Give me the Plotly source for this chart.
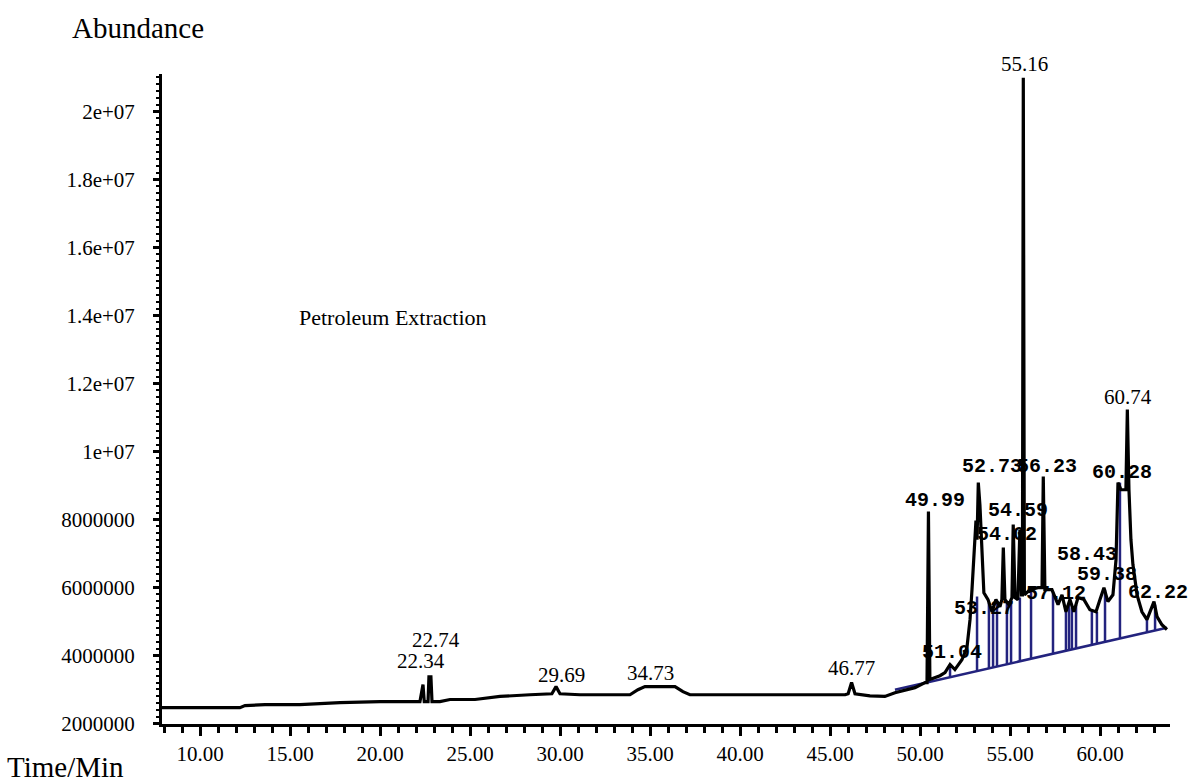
import plotly.graph_objects as go

# ---- chromatogram trace (time in min, abundance in millions) ----
time_min = [7.88, 12.21, 12.49, 13.60, 15.54, 17.77, 19.99, 22.21, 22.38, 22.45,
            22.66, 22.71, 22.82, 22.88, 23.32, 23.88, 25.27, 26.66, 28.32, 29.54,
            29.77, 29.99, 31.10, 33.88, 34.32, 34.71, 36.38, 36.82, 37.21, 45.83,
            46.00, 46.19, 46.38, 47.21, 48.04, 48.60, 49.71, 50.27, 50.38, 50.46,
            50.54, 51.10, 51.38, 51.66, 51.93, 52.32, 52.60, 52.77, 52.88, 52.99,
            53.10, 53.16, 53.23, 53.32, 53.43, 53.54, 53.77, 53.99, 54.21, 54.43,
            54.54, 54.62, 54.71, 54.93, 55.10, 55.17, 55.27, 55.43, 55.54, 55.63,
            55.68, 55.73, 55.79, 56.10, 56.54, 56.77, 56.84, 56.93, 57.32, 57.66,
            57.88, 58.10, 58.32, 58.54, 58.77, 59.10, 59.43, 59.77, 59.99, 60.21,
            60.43, 60.71, 60.88, 60.99, 61.16, 61.43, 61.51, 61.60, 61.71, 61.82,
            62.05, 62.32, 62.60, 62.77, 62.99, 63.16, 63.43, 63.71]
abundance_m = [2.46, 2.46, 2.52, 2.55, 2.55, 2.61, 2.64, 2.64, 3.14, 2.64,
               2.64, 3.37, 3.37, 2.64, 2.64, 2.70, 2.70, 2.79, 2.84, 2.87,
               3.08, 2.87, 2.84, 2.84, 2.99, 3.08, 3.08, 2.93, 2.84, 2.84,
               2.87, 3.20, 2.87, 2.81, 2.79, 2.90, 3.05, 3.20, 3.20, 8.23,
               3.29, 3.40, 3.49, 3.73, 3.58, 3.87, 4.23, 5.05, 5.93, 6.81,
               7.96, 7.40, 9.08, 8.43, 6.81, 5.84, 5.64, 5.28, 5.64, 5.43,
               5.64, 7.17, 5.64, 5.49, 5.70, 7.85, 5.70, 5.64, 7.69, 5.78,
               5.78, 20.99, 5.78, 5.93, 5.99, 5.99, 9.26, 5.93, 5.93, 5.49,
               5.78, 5.28, 5.64, 5.28, 5.70, 5.64, 5.34, 5.28, 5.64, 5.99,
               5.58, 5.78, 6.81, 9.08, 8.87, 8.87, 11.23, 8.87, 7.40, 6.67,
               5.78, 5.28, 5.05, 5.28, 5.58, 5.14, 4.90, 4.76]

# ---- integration baseline and drop lines ----
baseline_time = [48.60, 63.71]
baseline_m = [2.99, 4.81]
drop_time = [51.66, 53.16, 53.82, 54.05, 54.27, 54.82, 55.05, 55.54, 56.16, 57.38,
             58.10, 58.27, 58.43, 58.66, 59.54, 59.82, 60.27, 61.10, 62.60, 63.05]
drop_bottom_m = [3.36, 3.54, 3.62, 3.65, 3.68, 3.74, 3.77, 3.83, 3.90, 4.05,
                 4.14, 4.16, 4.18, 4.21, 4.31, 4.35, 4.40, 4.50, 4.68, 4.74]
drop_top_m = [3.73, 5.73, 5.55, 5.28, 5.58, 5.55, 5.64, 5.70, 5.93, 5.87,
              5.28, 5.49, 5.40, 5.49, 5.34, 5.28, 5.93, 9.08, 5.05, 5.49]

# ---- peak labels ----
serif_labels = ["22.34", "22.74", "29.69", "34.73", "46.77", "60.74"]
serif_label_t = [22.25, 23.10, 30.08, 35.03, 46.19, 61.55]
serif_label_m = [3.84, 4.46, 3.43, 3.48, 3.63, 11.61]
top_label = "55.16"
top_label_t = 55.82
mono_labels = ["49.99", "52.73", "56.23", "54.59", "54.02", "51.04", "60.28",
               "58.43", "59.38", "62.22", "53.27", "57.12"]
mono_label_t = [50.82, 53.97, 57.03, 55.43, 54.85, 51.79, 61.24,
                59.29, 60.36, 63.21, 53.55, 57.55]
mono_label_m = [8.55, 9.55, 9.55, 8.25, 7.55, 4.08, 9.37,
                6.96, 6.37, 5.84, 5.37, 5.81]

x_tick_vals = [10, 15, 20, 25, 30, 35, 40, 45, 50, 55, 60]
x_tick_text = ["10.00", "15.00", "20.00", "25.00", "30.00", "35.00", "40.00",
               "45.00", "50.00", "55.00", "60.00"]
y_tick_vals = [2e6, 4e6, 6e6, 8e6, 1e7, 1.2e7, 1.4e7, 1.6e7, 1.8e7, 2e7]
y_tick_text = ["2000000", "4000000", "6000000", "8000000", "1e+07", "1.2e+07",
               "1.4e+07", "1.6e+07", "1.8e+07", "2e+07"]

M = 1e6
SERIF = "Liberation Serif"
MONO = "Liberation Mono"
NAVY = "#23237e"

fig = go.Figure()

# integration baseline
fig.add_trace(go.Scatter(x=baseline_time, y=[v * M for v in baseline_m], mode="lines",
                         line=dict(color=NAVY, width=2.5), hoverinfo="skip", showlegend=False))
# drop lines
dx, dy = [], []
for t, b, tp in zip(drop_time, drop_bottom_m, drop_top_m):
    dx += [t, t, None]
    dy += [b * M, tp * M, None]
fig.add_trace(go.Scatter(x=dx, y=dy, mode="lines", line=dict(color=NAVY, width=2.5),
                         hoverinfo="skip", showlegend=False))
# chromatogram
fig.add_trace(go.Scatter(x=time_min, y=[v * M for v in abundance_m], mode="lines",
                         line=dict(color="black", width=3.2), showlegend=False))

ann = []
for txt, t, v in zip(serif_labels, serif_label_t, serif_label_m):
    ann.append(dict(x=t, y=v * M, xref="x", yref="y", text=txt, showarrow=False,
                    font=dict(family=SERIF, size=21, color="black")))
ann.append(dict(x=top_label_t, y=21.1 * M, xref="x", yref="y", text=top_label, showarrow=False,
                yanchor="bottom", yshift=-4, font=dict(family=SERIF, size=21, color="black")))
for txt, t, v in zip(mono_labels, mono_label_t, mono_label_m):
    ann.append(dict(x=t, y=v * M, xref="x", yref="y", text="<b>" + txt + "</b>", showarrow=False,
                    font=dict(family=MONO, size=20, color="black")))
ann.append(dict(x=15.38, y=13.93 * M, xref="x", yref="y", text="Petroleum Extraction",
                showarrow=False, xanchor="left", font=dict(family=SERIF, size=22, color="black")))
ann.append(dict(x=-0.0913, y=1.0715, xref="paper", yref="paper", text="Abundance",
                showarrow=False, xanchor="left", yanchor="middle",
                font=dict(family=SERIF, size=29, color="black")))
ann.append(dict(x=-0.1558, y=-0.066, xref="paper", yref="paper", text="Time/Min",
                showarrow=False, xanchor="left", yanchor="middle",
                font=dict(family=SERIF, size=29, color="black")))

fig.update_layout(
    width=1192, height=783,
    margin=dict(l=162, r=22, t=74, b=59),
    paper_bgcolor="white", plot_bgcolor="white",
    annotations=ann,
    xaxis=dict(range=[7.88, 63.88], tickvals=x_tick_vals, ticktext=x_tick_text,
               showline=True, linecolor="black", linewidth=3, ticks="outside",
               ticklen=9, tickwidth=3, tickcolor="black", showgrid=False, zeroline=False,
               tickfont=dict(family=SERIF, size=21, color="black"),
               minor=dict(dtick=1, tick0=0, ticks="outside", ticklen=6, tickwidth=3,
                          tickcolor="black", showgrid=False)),
    yaxis=dict(range=[1.98e6, 2.11e7], tickvals=y_tick_vals, ticktext=y_tick_text,
               showline=True, linecolor="black", linewidth=3, ticks="outside",
               ticklen=6, tickwidth=3, tickcolor="black", showgrid=False, zeroline=False,
               ticklabelstandoff=14,
               tickfont=dict(family=SERIF, size=21, color="black"),
               minor=dict(dtick=2e5, tick0=0, ticks="outside", ticklen=3, tickwidth=2,
                          tickcolor="black", showgrid=False)),
)

fig.write_html("out.html", config={"displayModeBar": False},
               post_script="document.body.style.margin='0';")
